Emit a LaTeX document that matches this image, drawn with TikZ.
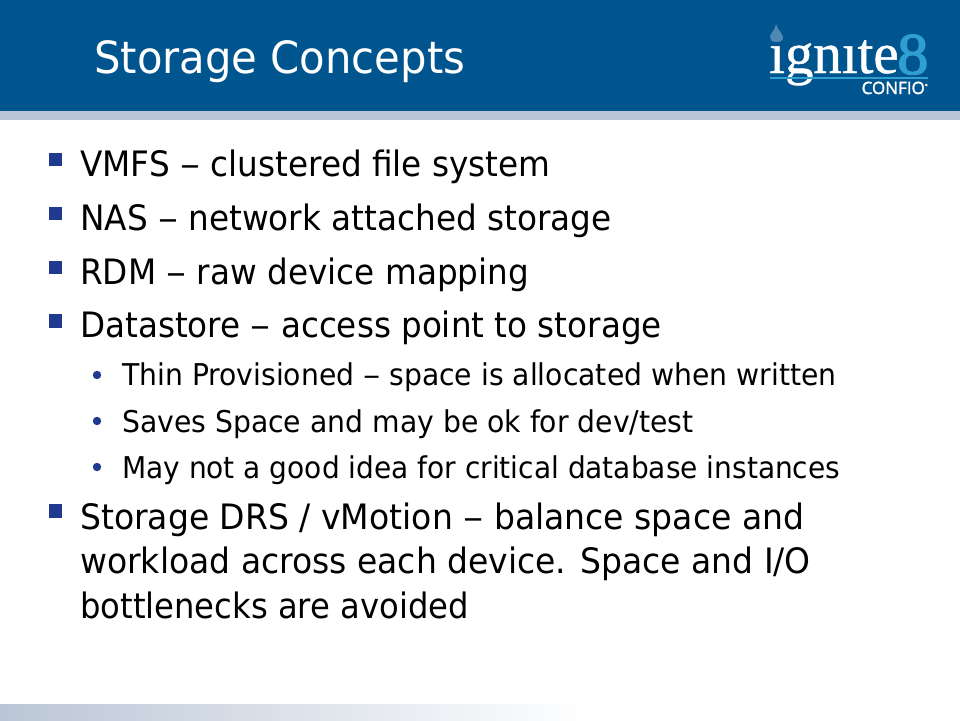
\documentclass[tikz,border=0pt]{standalone}
\usepackage{fontspec}
\setmainfont[FakeStretch=0.94]{DejaVu Sans}
\newfontfamily\logofont[FakeBold=0.8,FakeStretch=0.98]{Liberation Serif}
\newfontfamily\logofontb[FakeBold=2.2,FakeStretch=1.06]{Liberation Serif}
\newfontfamily\logosans[FakeBold=1.6]{Open Sans}
\definecolor{hdrblue}{HTML}{00558F}
\definecolor{bandgrey}{HTML}{BBC6D6}
\definecolor{bulblue}{HTML}{1F3A8F}
\definecolor{logocyan}{HTML}{2E9FD0}
\definecolor{flameblue}{HTML}{4F87B5}
\newcommand{\lnw}[2]{\scalebox{#1}[1]{#2}}
\newcommand{\wdash}{\scalebox{1.22}[1]{–}}
\tikzset{x=1pt,y=-1pt,
  lvlone/.style={anchor=base west,inner sep=0pt,font=\fontsize{35}{38}\selectfont,text=black},
  lvltwo/.style={anchor=base west,inner sep=0pt,font=\fontsize{30}{32}\selectfont,text=black},
  sqbul/.style={fill=bulblue,draw=none},
  rdbul/.style={fill=bulblue,draw=none}}
\begin{document}
\begin{tikzpicture}
\useasboundingbox (0,0) rectangle (960,720);
\fill[white] (0,0) rectangle (960,720);
\fill[hdrblue] (0,0) rectangle (960,111);
\fill[bandgrey] (0,111) rectangle (960,120);
\shade[left color=bandgrey,right color=white,shading angle=90] (0,704) rectangle (590,720);
\node[anchor=base west,inner sep=0pt,text=white,font=\fontsize{44.4}{50}\selectfont] (title) at (94,73) {Storage Concepts};
% logo
\node[anchor=base west,inner sep=0pt,text=white,font=\logofont\fontsize{58}{58}\selectfont] (logoa) at (769,73) {ıgnıte};
\node[anchor=base west,inner sep=0pt,text=logocyan,font=\logofontb\fontsize{59}{59}\selectfont] (logob) at (897,74) {8};
\fill[flameblue] (776,24) .. controls (778,31) and (783,33) .. (783,38) .. controls (783,41) and (780,42) .. (776,42) .. controls (772,42) and (770,40) .. (770,37) .. controls (770,33) and (775,31) .. (776,24) -- cycle;
\fill[logocyan] (770,76.5) rectangle (928,79);
\node[anchor=base east,inner sep=0pt,text=white,font=\logosans\fontsize{17}{17}\selectfont] (logoc) at (928,94) {CONFIO\raisebox{5pt}{\fontsize{7}{7}\selectfont°}};
% bullets
\foreach \n/\yy in {a/152.5,b/206.5,c/260.5,d/314,e/504}
  \fill[sqbul] (48.5,\yy) rectangle +(13.5,13.5);
\foreach \yy in {375,421,467}
  \fill[rdbul] (97,\yy) circle (4.2);
% text
\node[lvlone] (l1) at (80,176) {\lnw{0.994}{VMFS \wdash{} clustered file system}};
\node[lvlone] (l2) at (80,230) {\lnw{0.994}{NAS \wdash{} network attached storage}};
\node[lvlone] (l3) at (80,284) {\lnw{0.993}{RDM \wdash{} raw device mapping}};
\node[lvlone] (l4) at (80,337) {\lnw{0.991}{Datastore \wdash{} access point to storage}};
\node[lvltwo] (s1) at (122,385) {\lnw{1.001}{Thin Provisioned \wdash{} space is allocated when written}};
\node[lvltwo] (s2) at (122,432) {\lnw{1.002}{Saves Space and may be ok for dev/test}};
\node[lvltwo] (s3) at (122,478) {\lnw{0.994}{May not a good idea for critical database instances}};
\node[lvlone] (l5) at (80,529) {\lnw{1.004}{Storage DRS / vMotion \wdash{} balance space and}};
\node[lvlone] (l6) at (80,573) {\lnw{1.003}{workload across each device. Space and I/O}};
\node[lvlone] (l7) at (80,618) {\lnw{0.98}{bottlenecks are avoided}};
\end{tikzpicture}
\end{document}
